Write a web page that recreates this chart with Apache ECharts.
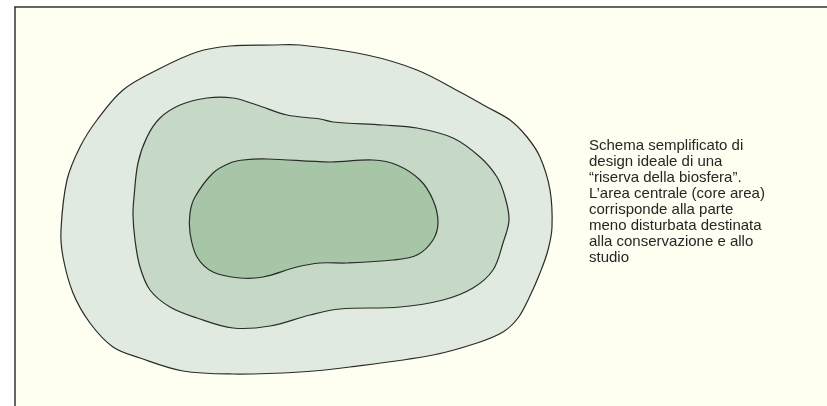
<!DOCTYPE html>
<html>
<head>
<meta charset="utf-8">
<script src="https://cdn.jsdelivr.net/npm/echarts@6/dist/echarts.min.js"></script>
<style>
html,body{margin:0;padding:0;background:#ffffff;}
#main{width:827px;height:406px;}
</style>
</head>
<body>
<div id="main"></div>
<script>
// Contour points (x, y) in diagram units
var outerZone = [[273,45],[300,45],[367,55],[417,70],[460,92],[487,107],[510,120],[527,137],[540,157],[550,190],[552,227],[548,250],[540,273],[529,298],[518,318],[503,332],[477,343],[433,355],[350,367],[300,372],[233,374],[183,371],[140,358],[113,347],[90,323],[73,293],[63,257],[61,230],[67,180],[80,147],[97,120],[123,90],[157,70],[197,52],[230,46]];
var bufferZone = [[207,98],[233,98],[257,105],[287,115],[320,119],[333,122],[383,125],[417,128],[453,138],[480,157],[497,177],[505,197],[509,220],[503,243],[493,270],[473,288],[443,300],[400,307],[340,309],[310,315],[270,326],[233,328],[197,318],[170,307],[150,290],[140,267],[135,240],[133,215],[134,197],[138,163],[147,137],[160,118],[180,105]];
var coreZone = [[243,160],[267,159],[330,162],[373,160],[397,165],[420,180],[433,200],[438,222],[433,240],[417,255],[393,260],[347,263],[320,263],[297,267],[263,277],[240,278],[213,272],[197,257],[190,233],[190,213],[195,197],[213,173],[230,163]];
var zoneNames = ['outer', 'buffer', 'core'];
var zoneColors = ['#E1EAE1', '#C6D9C6', '#A7C5A7'];
var captionLines = [
  'Schema semplificato di',
  'design ideale di una',
  '\u201criserva della biosfera\u201d.',
  'L\u2019area centrale (core area)',
  'corrisponde alla parte',
  'meno disturbata destinata',
  'alla conservazione e allo',
  'studio'
];

var zones = [outerZone, bufferZone, coreZone];

function makeSeries(points, idx) {
  return {
    type: 'custom',
    name: zoneNames[idx],
    coordinateSystem: 'cartesian2d',
    data: points,
    silent: true,
    clip: false,
    z: 2 + idx,
    renderItem: function (params, api) {
      if (params.dataIndex !== 0) return null;
      var pts = points.map(function (p) { return api.coord(p); });
      return {
        type: 'polygon',
        shape: { points: pts, smooth: 0.35 },
        style: { fill: zoneColors[idx], stroke: '#2b2b2b', lineWidth: 1.2 }
      };
    }
  };
}

var axisLineStyle = { show: true, onZero: false, lineStyle: { color: '#333333', width: 1.5 } };

var chart = echarts.init(document.getElementById('main'), null, { renderer: 'canvas' });
chart.setOption({
  backgroundColor: '#ffffff',
  animation: false,
  title: {
    text: captionLines.join('\n'),
    left: 589,
    top: 138,
    padding: 0,
    textStyle: {
      fontFamily: 'Liberation Sans, Arial, sans-serif',
      fontSize: 15,
      lineHeight: 16,
      fontWeight: 'normal',
      color: '#262626'
    }
  },
  grid: {
    left: 15, top: 7, right: 0, bottom: 0,
    show: true,
    backgroundColor: '#FEFEF1',
    borderWidth: 0
  },
  xAxis: {
    type: 'value', min: 15, max: 827, position: 'top',
    axisLine: axisLineStyle, axisTick: { show: false }, axisLabel: { show: false }, splitLine: { show: false }
  },
  yAxis: {
    type: 'value', min: 7, max: 406, inverse: true, position: 'left',
    axisLine: axisLineStyle, axisTick: { show: false }, axisLabel: { show: false }, splitLine: { show: false }
  },
  series: zones.map(makeSeries)
});
</script>
</body>
</html>
